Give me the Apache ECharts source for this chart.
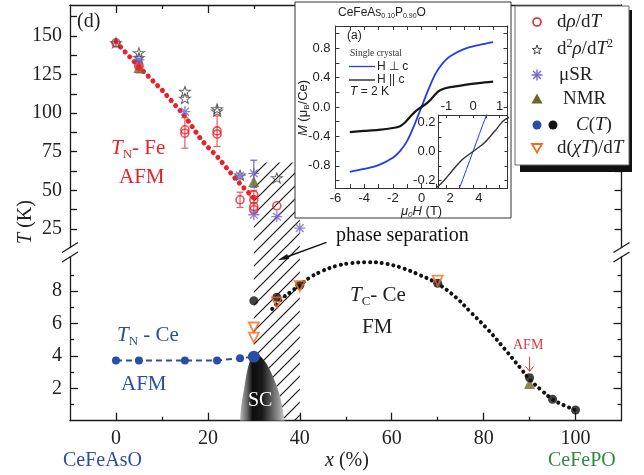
<!DOCTYPE html>
<html><head><meta charset="utf-8">
<script src="https://cdn.jsdelivr.net/npm/echarts@6/dist/echarts.min.js"></script>
<style>html,body{margin:0;padding:0;background:#fff}#c{width:644px;height:475px}</style>
</head><body><div id="c"></div>
<script>
// ---------------- DATA ----------------
const xTicks = [0, 20, 40, 60, 80, 100];
const xMinorTicks = [10, 30, 50, 70, 90];
const upperYLabels = [25, 50, 75, 100, 125, 150];
const upperYTicks = [25, 37.5, 50, 62.5, 75, 87.5, 100, 112.5, 125, 137.5, 150, 162.5];
const lowerYLabels = [2, 4, 6, 8];
const lowerYMinor = [1, 3, 5, 7, 9];
const insetXLabels = [-6, -4, -2, 0, 2, 4];
const insetXTicks = [-5, -4, -3, -2, -1, 0, 1, 2, 3, 4, 5];
const insetYLabels = [-0.8, -0.4, 0, 0.4, 0.8];
const insetYTicks = [-1, -0.8, -0.6, -0.4, -0.2, 0, 0.2, 0.4, 0.6, 0.8, 1];
const innerXLabels = [-1, 0, 1];
const innerXTicks = [-1, -0.5, 0, 0.5, 1];
const innerYLabels = [-0.2, 0, 0.2];
const innerYTicks = [-0.2, -0.1, 0, 0.1, 0.2];

// upper panel (T in K, 13..170)
const tnFeLine = [[0,146],[5,130],[10,115],[15,98],[18.5,83],[20,78],[22,72],[26,57.5],[28,51],[30,45]];
const rhoPts = [[0,145.5],[15,89.2],[15,87],[22,88.5],[22,86.4],[27,43.9],[30,47.1],[30,43.9],[30,39.5],[30,37.4],[35,40]];
const rhoFilledPts = [[5,130.5]];
const d2rhoPts = [[0,145.5],[5,139],[5,136],[15,114],[15,109.5],[22,102.8],[22,101.3],[27,59.8],[35,58]];
const musrPts = [[5,134.5],[15,101],[27,59.6],[30,61],[30,34.2],[35,33],[40,25.5]];
const nmrUpperPts = [[5,129.5],[30,55.7]];
const rhoErr = [[5,126,134.3],[15,77.3,97],[22,78.4,98.2],[27,38.9,48.8],[30,36,50]];
const musrErr = [[30,52,69.5]];

// lower panel (T in K, 0..10.1)
const blueCT = [[0,3.72],[5,3.72],[15,3.72],[22,3.72],[27,3.85],[30,3.95]];
const blackCT = [[30,7.4],[35,7.62],[40,8.35],[70,8.48],[90,2.65],[95,1.32],[100,0.66]];
const chiPts = [[30,5.75],[30,5.12],[35,7.3],[40,8.3],[70,8.64]];
const nmrLowerPts = [[90,2.3]];
const tcCurve = [[34,6.9],[36,7.5],[38,7.95],[40,8.35],[42,8.8],[45,9.25],[48,9.55],[51,9.72],[55,9.78],[58,9.72],[62,9.45],[66,9.0],[70,8.45],[74,7.6],[77,6.75],[81,5.6],[84.5,4.45],[88,3.25],[90,2.55],[92.5,1.9],[95,1.32],[97.5,0.95],[100,0.65]];
const scDome = [[27,0],[27.3,1],[27.9,2],[28.5,3],[29.2,3.75],[30,4.25],[31,4.1],[32.8,3.5],[34.5,2.5],[35.7,1.5],[36.4,0.5],[36.7,0]];
const hatchX = [30, 40];
const hatchTop = 68;   // upper-panel value
const arrowTail = [45.8, 11.0];
const arrowTip = [35.2, 9.9];
const afmArrow = [[90, 3.95], [90, 3.05]];

// inset M(H)
const magPerp = [[-5,-0.88],[-4,-0.84],[-3,-0.79],[-2,-0.69],[-1.5,-0.6],[-1,-0.46],[-0.5,-0.245],[0,0],[0.5,0.245],[1,0.46],[1.5,0.6],[2,0.69],[3,0.79],[4,0.84],[5,0.88]];
const magPar = [[-5,-0.34],[-4,-0.325],[-3,-0.31],[-2,-0.285],[-1.5,-0.26],[-1.15,-0.21],[-0.8,-0.135],[-0.4,-0.055],[0,0],[0.4,0.055],[0.8,0.135],[1.15,0.21],[1.5,0.245],[2,0.27],[3,0.3],[4,0.325],[5,0.344]];

// ---------------- STYLE ----------------
const SERIF = 'Liberation Serif', SANS = 'Liberation Sans';
const AX = '#1a1a1a';
const RED = '#e8212b', BLUE = '#2a4ea6', PURPLE = '#6f64c4', OLIVE = '#6b6a25', ORANGE = '#f26a1f', GREEN = '#2f8a3f', BLK = '#111';
const STAR_PTS = [[0,-10],[2.35,-3.24],[9.51,-3.09],[3.8,1.24],[5.88,8.09],[0,4],[-5.88,8.09],[-3.8,1.24],[-9.51,-3.09],[-2.35,-3.24]];
const STAR = 'path://M' + STAR_PTS.map(p => p.join(',')).join('L') + 'Z';
const ASTER = 'path://M-1.2,-10L1.2,-10L1.2,10L-1.2,10ZM-10,-1.2L10,-1.2L10,1.2L-10,1.2ZM-7.92,-6.22L-6.22,-7.92L7.92,6.22L6.22,7.92ZM-6.22,7.92L-7.92,6.22L6.22,-7.92L7.92,-6.22Z';

const G0 = {left:70, top:5, width:551.5, height:242.5};
const G1 = {left:70, top:257, width:551.5, height:163.7};
const G2 = {left:335.5, top:26, width:172, height:162};
const G3 = {left:438.5, top:115, width:69, height:73};

function ax(o) {
  const c = o.color || AX, w = o.width || 1.3;
  const a = {
    type:'value', gridIndex:o.g, position:o.pos, min:o.min, max:o.max, z:o.z || 0,
    splitLine:{show:false}, splitArea:{show:false},
    axisLine:{show:!!o.line, onZero:false, lineStyle:{color:c, width:w}},
    axisTick:{show:true, inside:true, length:o.len || 6, customValues:o.ticks, lineStyle:{color:c, width:w}},
    axisLabel:{show:false}
  };
  if (o.labels) {
    a.axisLabel = {show:true, customValues:o.labels, margin:(o.margin == null ? 8 : o.margin),
      fontFamily:o.font || SERIF, fontSize:o.fs || 20, color:'#222'};
    if (o.fmt) a.axisLabel.formatter = o.fmt;
  }
  return a;
}
const f1 = v => Number(v).toFixed(1);

function errRender(color) {
  return function (params, api) {
    const x = api.value(0), lo = api.value(1), hi = api.value(2);
    const a = api.coord([x, lo]), b = api.coord([x, hi]);
    const w = 3.5, st = {stroke:color, lineWidth:1.2};
    return {type:'group', children:[
      {type:'line', shape:{x1:a[0], y1:a[1], x2:b[0], y2:b[1]}, style:st},
      {type:'line', shape:{x1:a[0]-w, y1:a[1], x2:a[0]+w, y2:a[1]}, style:st},
      {type:'line', shape:{x1:b[0]-w, y1:b[1], x2:b[0]+w, y2:b[1]}, style:st}
    ]};
  };
}

const chart = echarts.init(document.getElementById('c'));
const option = {
  animation:false,
  backgroundColor:'#fff',
  grid:[G0, G1, G2, G3].map(g => Object.assign({show:false, containLabel:false}, g)),
  xAxis:[
    ax({g:0, pos:'top', min:-10, max:110, line:true, ticks:xTicks, len:8}),
    ax({g:0, pos:'top', min:-10, max:110, ticks:xMinorTicks, len:4}),
    ax({g:1, pos:'bottom', min:-10, max:110, line:true, ticks:xTicks, len:8, labels:xTicks, margin:8}),
    ax({g:1, pos:'bottom', min:-10, max:110, ticks:xMinorTicks, len:4}),
    ax({g:2, pos:'bottom', min:-6, max:6, line:true, ticks:insetXTicks, len:4, labels:insetXLabels, font:SANS, fs:13, margin:4, z:60, color:'#333', width:1}),
    ax({g:2, pos:'top', min:-6, max:6, line:true, ticks:insetXTicks, len:4, z:60, color:'#333', width:1}),
    ax({g:3, pos:'top', min:-1.3, max:1.3, line:true, ticks:innerXTicks, len:3, labels:innerXLabels, font:SANS, fs:13, margin:2, z:63, color:'#333', width:1}),
    ax({g:3, pos:'bottom', min:-1.3, max:1.3, line:true, ticks:innerXTicks, len:3, z:63, color:'#333', width:1})
  ],
  yAxis:[
    ax({g:0, pos:'left', min:13, max:170, line:true, ticks:upperYTicks, len:7, labels:upperYLabels}),
    ax({g:0, pos:'right', min:13, max:170, line:true, ticks:upperYTicks, len:7}),
    ax({g:1, pos:'left', min:0, max:10.1, line:true, ticks:lowerYLabels, len:8, labels:lowerYLabels}),
    ax({g:1, pos:'left', min:0, max:10.1, ticks:lowerYMinor, len:4}),
    ax({g:1, pos:'right', min:0, max:10.1, line:true, ticks:lowerYLabels, len:8}),
    ax({g:1, pos:'right', min:0, max:10.1, ticks:lowerYMinor, len:4}),
    ax({g:2, pos:'left', min:-1.1, max:1.1, line:true, ticks:insetYTicks, len:4, labels:insetYLabels, font:SANS, fs:13, margin:5, z:60, color:'#333', width:1, fmt:f1}),
    ax({g:2, pos:'right', min:-1.1, max:1.1, line:true, ticks:insetYTicks, len:4, z:60, color:'#333', width:1}),
    ax({g:3, pos:'left', min:-0.25, max:0.25, line:true, ticks:innerYTicks, len:3, labels:innerYLabels, font:SANS, fs:13, margin:3, z:63, color:'#333', width:1, fmt:f1}),
    ax({g:3, pos:'right', min:-0.25, max:0.25, line:true, ticks:innerYTicks, len:3, z:63, color:'#333', width:1})
  ],
  series:[
    {type:'line', name:'SC', xAxisIndex:2, yAxisIndex:2, data:scDome, smooth:0.3, symbol:'none', silent:true,
      lineStyle:{width:0}, z:2,
      areaStyle:{origin:'start', opacity:1, color:new echarts.graphic.LinearGradient(0,0,1,0,[
        {offset:0, color:'#b8b8b8'},{offset:0.15, color:'#6a6a6a'},{offset:0.28, color:'#0d0d0d'},
        {offset:0.5, color:'#1a1a1a'},{offset:0.7, color:'#5a5a5a'},{offset:0.88, color:'#9a9a9a'},{offset:1, color:'#cfcfcf'}])}},
    {type:'line', xAxisIndex:0, yAxisIndex:0, data:tnFeLine, symbol:'none', silent:true,
      lineStyle:{color:RED, width:5, type:[0.1, 6.6], cap:'round'}},
    {type:'custom', xAxisIndex:0, yAxisIndex:0, data:rhoErr, renderItem:errRender('#ee5a5f'), silent:true, z:3},
    {type:'custom', xAxisIndex:0, yAxisIndex:0, data:musrErr, renderItem:errRender(PURPLE), silent:true, z:3},
    {type:'scatter', name:'NMR', xAxisIndex:0, yAxisIndex:0, data:nmrUpperPts, symbol:'triangle', symbolSize:11, itemStyle:{color:OLIVE}, z:4},
    {type:'scatter', name:'drho', xAxisIndex:0, yAxisIndex:0, data:rhoPts, symbol:'circle', symbolSize:8,
      itemStyle:{color:'rgba(255,255,255,0)', borderColor:RED, borderWidth:1.6}, z:5},
    {type:'scatter', xAxisIndex:0, yAxisIndex:0, data:rhoFilledPts, symbol:'circle', symbolSize:10, itemStyle:{color:RED}, z:5},
    {type:'scatter', name:'d2rho', xAxisIndex:0, yAxisIndex:0, data:d2rhoPts, symbol:STAR, symbolSize:[11,10],
      itemStyle:{color:'rgba(255,255,255,0)', borderColor:'#444', borderWidth:1}, z:5},
    {type:'scatter', name:'muSR', xAxisIndex:0, yAxisIndex:0, data:musrPts, symbol:ASTER, symbolSize:11, itemStyle:{color:PURPLE}, z:6},
    {type:'line', name:'TN Ce', xAxisIndex:2, yAxisIndex:2, data:blueCT, symbol:'circle',
      symbolSize:(v, p) => p.dataIndex === blueCT.length - 1 ? 12 : 8,
      lineStyle:{color:BLUE, width:2, type:[6,4]}, itemStyle:{color:BLUE}, z:4},
    {type:'line', name:'Tc Ce', xAxisIndex:2, yAxisIndex:2, data:tcCurve, smooth:0.4, symbol:'none', silent:true,
      lineStyle:{color:BLK, width:4, type:[0.1, 5.8], cap:'round'}, z:3},
    {type:'scatter', xAxisIndex:2, yAxisIndex:2, data:nmrLowerPts, symbol:'triangle', symbolSize:11, itemStyle:{color:OLIVE}, z:4},
    {type:'scatter', name:'C(T)', xAxisIndex:2, yAxisIndex:2, data:blackCT, symbol:'circle', symbolSize:9, itemStyle:{color:BLK}, z:5},
    {type:'scatter', name:'d(chiT)/dT', xAxisIndex:2, yAxisIndex:2, data:chiPts, symbol:'triangle', symbolRotate:180, symbolSize:10,
      itemStyle:{color:'rgba(255,255,255,0)', borderColor:ORANGE, borderWidth:1.8}, z:6},
    {type:'line', xAxisIndex:4, yAxisIndex:6, data:magPerp, smooth:0.35, symbol:'none', lineStyle:{color:'#1f3cf0', width:1.8}, z:61, silent:true},
    {type:'line', xAxisIndex:4, yAxisIndex:6, data:magPar, smooth:0.3, symbol:'none', lineStyle:{color:'#161616', width:2.2}, z:61, silent:true},
    {type:'line', xAxisIndex:6, yAxisIndex:8, data:magPerp, smooth:0.35, symbol:'none', lineStyle:{color:'#1f3cf0', width:1}, z:64, silent:true, clip:true},
    {type:'line', xAxisIndex:6, yAxisIndex:8, data:magPar, smooth:0.3, symbol:'none', lineStyle:{color:'#333', width:1.4}, z:64, silent:true, clip:true}
  ]
};
chart.setOption(option);

// ---------------- GRAPHICS (annotations) ----------------
const P = (xi, yi, pt) => chart.convertToPixel({xAxisIndex:xi, yAxisIndex:yi}, pt);

const pc = document.createElement('canvas'); pc.width = 13; pc.height = 13;
const cx = pc.getContext('2d'); cx.strokeStyle = '#1a1a1a'; cx.lineWidth = 1.2;
[[-2,15,15,-2],[-2,2,2,-2],[11,15,15,11]].forEach(s => { cx.beginPath(); cx.moveTo(s[0],s[1]); cx.lineTo(s[2],s[3]); cx.stroke(); });

const hTL = P(0, 0, [hatchX[0], hatchTop]);
const hBR = P(2, 2, [hatchX[1], 0]);
const aTail = P(2, 2, arrowTail), aTip = P(2, 2, arrowTip);
const dx = aTip[0]-aTail[0], dy = aTip[1]-aTail[1], dl = Math.hypot(dx, dy);
const ux = dx/dl, uy = dy/dl, nx = -uy, ny = ux;
const afm0 = P(2, 2, afmArrow[0]), afm1 = P(2, 2, afmArrow[1]);

function rich(size, color, font) {
  font = font || SERIF;
  return {
    n:{fontFamily:font, fontSize:size, fill:color},
    i:{fontFamily:font, fontSize:size, fontStyle:'italic', fill:color},
    s:{fontFamily:font, fontSize:Math.round(size*0.62), fill:color, padding:[Math.round(size*0.6),0,0,0]},
    si:{fontFamily:font, fontSize:Math.round(size*0.62), fontStyle:'italic', fill:color, padding:[Math.round(size*0.5),0,0,0]},
    p:{fontFamily:font, fontSize:Math.round(size*0.62), fill:color, padding:[0,0,Math.round(size*0.5),0]}
  };
}
function T(x, y, text, r, extra) {
  return Object.assign({type:'text', x:x, y:y, z:90, silent:true,
    style:{text:text, rich:r, align:'left', verticalAlign:'middle'}}, extra || {});
}
function L(x1, y1, x2, y2, color, w, z) {
  return {type:'line', z:z || 10, silent:true, shape:{x1:x1, y1:y1, x2:x2, y2:y2}, style:{stroke:color, lineWidth:w}};
}
function starAt(cx0, cy0, s) { return STAR_PTS.map(p => [cx0 + p[0]*s, cy0 + p[1]*s]); }
function asterAt(cx0, cy0, r, color) {
  const out = [];
  for (let k = 0; k < 4; k++) {
    const a = k * Math.PI / 4;
    out.push(L(cx0 - r*Math.cos(a), cy0 - r*Math.sin(a), cx0 + r*Math.cos(a), cy0 + r*Math.sin(a), color, 1.4, 85));
  }
  return out;
}

const g0b = G0.top + G0.height, g1t = G1.top, lx = G0.left, rx = G0.left + G0.width;
const graphics = [
  {type:'rect', z:1, silent:true, shape:{x:hTL[0], y:hTL[1], width:hBR[0]-hTL[0], height:hBR[1]-hTL[1]},
    style:{fill:{type:'pattern', image:pc, repeat:'repeat'}}},
  L(lx-8, g0b+5, lx+8, g0b-5, AX, 1.3), L(lx-8, g1t+5, lx+8, g1t-5, AX, 1.3),
  L(rx-8, g0b+5, rx+8, g0b-5, AX, 1.3), L(rx-8, g1t+5, rx+8, g1t-5, AX, 1.3),
  L(aTail[0], aTail[1], aTip[0]-ux*5, aTip[1]-uy*5, '#111', 1.4, 10),
  {type:'polygon', z:10, silent:true, shape:{points:[[aTip[0], aTip[1]],
    [aTip[0]-ux*11+nx*2.6, aTip[1]-uy*11+ny*2.6], [aTip[0]-ux*11-nx*2.6, aTip[1]-uy*11-ny*2.6]]}, style:{fill:'#111'}},
  // AFM arrow (90%)
  L(afm0[0], afm0[1], afm1[0], afm1[1], '#d43c3c', 1, 10),
  {type:'polyline', z:10, silent:true, shape:{points:[[afm1[0]-4, afm1[1]-5],[afm1[0], afm1[1]],[afm1[0]+4, afm1[1]-5]]}, style:{stroke:'#d43c3c', lineWidth:1, fill:null}},
  {type:'rect', z:50, silent:true, shape:{x:295, y:2, width:216, height:216}, style:{fill:'#fff', stroke:'#333', lineWidth:1}},
  {type:'rect', z:62, silent:true, shape:{x:G3.left, y:G3.top, width:G3.width, height:G3.height}, style:{fill:'#fff'}},
  T(338, 13, '{n|CeFeAs}{s|0.10}{n|P}{s|0.90}{n|O}', rich(12, '#222', SANS), {z:70}),
  T(347, 36, '{n|(a)}', rich(12, '#222', SANS), {z:70}),
  T(350, 53, '{n|Single crystal}', rich(9.5, '#333'), {z:70}),
  L(349, 66.5, 375, 66.5, '#1f3cf0', 1.3, 70),
  L(349, 80, 375, 80, '#161616', 1.3, 70),
  T(377, 66.5, '{n|H ⊥ c}', rich(12, '#222', SANS), {z:70}),
  T(377, 80, '{n|H || c}', rich(12, '#222', SANS), {z:70}),
  T(350, 92, '{i|T}{n| = 2 K}', rich(12, '#222', SANS), {z:70}),
  T(401, 211, '{i|μ}{si|0}{i|H}{n| (T)}', rich(13, '#222', SANS), {z:70}),
  {type:'text', x:303, y:108, z:70, silent:true, rotation:Math.PI/2,
    style:{text:'{i|M}{n| (μ}{s|B}{n|/Ce)}', rich:rich(13, '#222', SANS), align:'center', verticalAlign:'middle'}},
  // legend
  {type:'rect', z:79, silent:true, shape:{x:520, y:10, width:112, height:162}, style:{fill:'#111'}},
  {type:'rect', z:80, silent:true, shape:{x:515, y:6, width:114, height:159}, style:{fill:'#fff', stroke:'#666', lineWidth:1}},
  {type:'circle', z:85, silent:true, shape:{cx:537, cy:22, r:4}, style:{fill:'none', stroke:RED, lineWidth:1.6}},
  {type:'polygon', z:85, silent:true, shape:{points:starAt(537, 50, 0.5)}, style:{fill:'none', stroke:'#444', lineWidth:1}},
  ...asterAt(537, 75, 5.5, PURPLE),
  {type:'polygon', z:85, silent:true, shape:{points:[[537,93.5],[542.5,103.5],[531.5,103.5]]}, style:{fill:OLIVE}},
  {type:'circle', z:85, silent:true, shape:{cx:537, cy:125, r:4.5}, style:{fill:BLUE}},
  {type:'circle', z:85, silent:true, shape:{cx:553, cy:125, r:4.5}, style:{fill:BLK}},
  {type:'polygon', z:85, silent:true, shape:{points:[[532,144],[542,144],[537,152.5]]}, style:{fill:'none', stroke:ORANGE, lineWidth:1.8}},
  T(557, 22, '{n|d}{i|ρ}{n|/d}{i|T}', rich(19, '#222')),
  T(557, 49, '{n|d}{p|2}{i|ρ}{n|/d}{i|T}{p|2}', rich(19, '#222')),
  T(559, 75, '{n|μSR}', rich(19, '#222')),
  T(563, 99, '{n|NMR}', rich(19, '#222')),
  T(576, 125, '{i|C}{n|(}{i|T}{n|)}', rich(19, '#222')),
  T(557, 148, '{n|d(}{i|χT}{n|)/d}{i|T}', rich(19, '#222')),
  // main annotations
  T(77, 22, '{n|(d)}', rich(20, '#222')),
  T(111, 148, '{i|T}{s|N}{n|- Fe}', rich(21, RED)),
  T(119, 177, '{n|AFM}', rich(21, RED)),
  T(117, 335, '{i|T}{s|N}{n| - Ce}', rich(21, BLUE)),
  T(121, 384, '{n|AFM}', rich(21, BLUE)),
  T(350, 295, '{i|T}{s|C}{n|- Ce}', rich(21, '#222')),
  T(362, 327, '{n|FM}', rich(21, '#222')),
  T(513, 345, '{n|AFM}', rich(14, '#d43c3c')),
  T(336, 236, '{n|phase separation}', rich(20, '#111')),
  T(248, 401, '{n|SC}', rich(20, '#fff')),
  T(63, 461, '{n|CeFeAsO}', rich(20, BLUE)),
  T(548, 461, '{n|CeFePO}', rich(20, GREEN)),
  T(325, 461, '{i|x}{n| (%)}', rich(20, '#222')),
  {type:'text', x:26, y:222, z:90, silent:true, rotation:Math.PI/2,
    style:{text:'{i|T}{n| (K)}', rich:rich(20, '#222'), align:'center', verticalAlign:'middle'}}
];
chart.setOption({graphic:{elements:graphics}});
</script>
</body></html>
